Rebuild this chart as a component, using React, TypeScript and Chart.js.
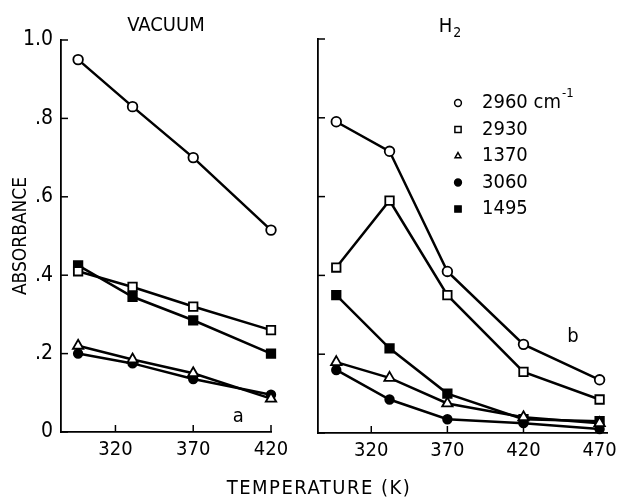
import React, { useEffect, useRef } from 'react';
import { Chart, registerables } from 'chart.js';
import { drawPoint } from 'chart.js/helpers';

Chart.register(...registerables);

const FONT = "'Liberation Sans Narrow', 'DejaVu Sans Condensed', 'Liberation Sans', sans-serif";

// ---------- data ----------
const seriesNames = ['2960', '2930', '1370', '3060', '1495'];
const seriesStyles = ['circle', 'rect', 'triangle', 'circle', 'rect'];
const seriesFilled = [false, false, false, true, true];
const seriesRadius = [4.8, 6, 6, 4.3, 6];

const vacuumTemps = [296, 331, 370, 420];
const vacuum2960 = [0.95, 0.83, 0.70, 0.515];
const vacuum2930 = [0.41, 0.37, 0.32, 0.26];
const vacuum1370 = [0.22, 0.185, 0.15, 0.085];
const vacuum3060 = [0.20, 0.175, 0.135, 0.095];
const vacuum1495 = [0.425, 0.345, 0.285, 0.20];

const h2Temps = [297, 332, 370, 420, 470];
const h2_2960 = [0.79, 0.715, 0.41, 0.225, 0.135];
const h2_2930 = [0.42, 0.59, 0.35, 0.155, 0.085];
const h2_1370 = [0.18, 0.14, 0.075, 0.04, 0.025];
const h2_3060 = [0.16, 0.085, 0.035, 0.025, 0.01];
const h2_1495 = [0.35, 0.215, 0.10, 0.035, 0.03];

const yTickValues = [0, 0.2, 0.4, 0.6, 0.8, 1.0];
const yTickLabels = ['0', '.2', '.4', '.6', '.8', '1.0'];
const vacuumXTicks = [320, 370, 420];
const h2XTicks = [320, 370, 420, 470];

// ---------- plugins ----------
const inwardTicks = {
  id: 'inwardTicks',
  afterDraw(chart: any) {
    const { ctx, chartArea, scales } = chart;
    ctx.save();
    ctx.strokeStyle = '#000';
    ctx.lineWidth = 1.5;
    const len = 7;
    scales.y.ticks.forEach((t: any) => {
      const y = scales.y.getPixelForValue(t.value);
      ctx.beginPath();
      ctx.moveTo(chartArea.left, y);
      ctx.lineTo(chartArea.left + len, y);
      ctx.stroke();
    });
    scales.x.ticks.forEach((t: any) => {
      const x = scales.x.getPixelForValue(t.value);
      ctx.beginPath();
      ctx.moveTo(x, chartArea.bottom);
      ctx.lineTo(x, chartArea.bottom - len);
      ctx.stroke();
    });
    ctx.restore();
  },
};

const panelText = {
  id: 'panelText',
  afterDraw(chart: any, _args: any, opts: any) {
    const { ctx, scales } = chart;
    ctx.save();
    ctx.fillStyle = '#000';
    ctx.textBaseline = 'middle';
    if (opts.title) {
      ctx.font = `20px ${FONT}`;
      ctx.textAlign = 'center';
      ctx.fillText(opts.title, opts.titleX, opts.titleY);
    }
    if (opts.sub) {
      ctx.font = `20px ${FONT}`;
      ctx.textAlign = 'left';
      const w = ctx.measureText(opts.subBase).width;
      const w2 = 9;
      const x0 = opts.titleX - (w + w2) / 2;
      ctx.fillText(opts.subBase, x0, opts.titleY);
      ctx.font = `14px ${FONT}`;
      ctx.fillText(opts.subText, x0 + w + 1, opts.titleY + 6);
    }
    if (opts.letter) {
      ctx.font = `20px ${FONT}`;
      ctx.textAlign = 'center';
      ctx.fillText(opts.letter, scales.x.getPixelForValue(opts.letterX), scales.y.getPixelForValue(opts.letterY));
    }
    ctx.restore();
  },
};

const inlineLegend = {
  id: 'inlineLegend',
  afterDraw(chart: any, _args: any, opts: any) {
    if (!opts.show) return;
    const { ctx } = chart;
    ctx.save();
    chart.data.datasets.forEach((ds: any, i: number) => {
      const y = opts.top + i * opts.step;
      ctx.fillStyle = ds.pointBackgroundColor;
      ctx.strokeStyle = '#000';
      ctx.lineWidth = 1.5;
      drawPoint(ctx, { pointStyle: ds.pointStyle, radius: ds.pointStyle === 'rect' ? 4.4 : 3.4, borderWidth: 1.5, rotation: 0 }, opts.markerX, y);
      ctx.fillStyle = '#000';
      ctx.font = `20px ${FONT}`;
      ctx.textAlign = 'left';
      ctx.textBaseline = 'middle';
      const label = i === 0 ? ds.label + ' cm' : ds.label;
      ctx.fillText(label, opts.textX, y);
      if (i === 0) {
        const w = ctx.measureText(label).width;
        ctx.font = `13px ${FONT}`;
        ctx.fillText('-1', opts.textX + w + 1, y - 9);
      }
    });
    ctx.restore();
  },
};

function buildDatasets(temps: number[], series: number[][]) {
  return series.map((vals, i) => ({
    label: seriesNames[i],
    data: temps.map((t, j) => ({ x: t, y: vals[j] })),
    borderColor: '#000',
    borderWidth: 2.5,
    pointStyle: seriesStyles[i],
    pointRadius: seriesRadius[i],
    pointBackgroundColor: seriesFilled[i] ? '#000' : '#fff',
    pointBorderColor: '#000',
    pointBorderWidth: 1.8,
    tension: 0,
    fill: false,
    clip: false,
  }));
}

function makeConfig(p: {
  temps: number[];
  series: number[][];
  xMax: number;
  xTicks: number[];
  showY: boolean;
  yWidth: number;
  xHeight: number;
  padTop: number;
  padRight: number;
  text: any;
  legend: any;
}) {
  return {
    type: 'line',
    data: { datasets: buildDatasets(p.temps, p.series) },
    plugins: [inwardTicks, panelText, inlineLegend],
    options: {
      responsive: false,
      animation: false,
      devicePixelRatio: 1,
      layout: { padding: { top: p.padTop, right: p.padRight, left: 0, bottom: 0 } },
      plugins: {
        legend: { display: false },
        title: { display: false },
        tooltip: { enabled: false },
        panelText: p.text,
        inlineLegend: p.legend,
      },
      scales: {
        x: {
          type: 'linear',
          min: 285,
          max: p.xMax,
          grid: { display: false, drawTicks: false },
          border: { display: true, color: '#000', width: 1.8 },
          afterBuildTicks: (s: any) => {
            s.ticks = p.xTicks.map((v) => ({ value: v }));
          },
          afterFit: (s: any) => {
            s.height = p.xHeight;
          },
          ticks: {
            color: '#000',
            padding: 6,
            maxRotation: 0,
            autoSkip: false,
            font: { family: FONT, size: 20 },
            callback: (v: any) => String(v),
          },
        },
        y: {
          type: 'linear',
          min: 0,
          max: 1.0,
          grid: { display: false, drawTicks: false },
          border: { display: true, color: '#000', width: 1.8 },
          afterBuildTicks: (s: any) => {
            s.ticks = yTickValues.map((v) => ({ value: v }));
          },
          afterFit: (s: any) => {
            s.width = p.yWidth;
          },
          title: {
            display: p.showY,
            text: 'ABSORBANCE',
            color: '#000',
            font: { family: FONT, size: 19 },
            padding: { top: 10, bottom: 0 },
          },
          ticks: {
            display: p.showY,
            color: '#000',
            padding: 8,
            autoSkip: false,
            font: { family: FONT, size: 21 },
            callback: (v: any) => {
              const idx = yTickValues.findIndex((t) => Math.abs(t - v) < 1e-9);
              return idx >= 0 ? yTickLabels[idx] : '';
            },
          },
        },
      },
    },
  } as any;
}

export default function App() {
  const leftRef = useRef<HTMLCanvasElement>(null);
  const rightRef = useRef<HTMLCanvasElement>(null);

  useEffect(() => {
    const left = new Chart(
      leftRef.current!,
      makeConfig({
        temps: vacuumTemps,
        series: [vacuum2960, vacuum2930, vacuum1370, vacuum3060, vacuum1495],
        xMax: 420,
        xTicks: vacuumXTicks,
        showY: true,
        yWidth: 61,
        xHeight: 68,
        padTop: 40,
        padRight: 29,
        text: { title: 'VACUUM', titleX: 166, titleY: 26, letter: 'a', letterX: 399, letterY: 0.04 },
        legend: { show: false },
      })
    );
    const right = new Chart(
      rightRef.current!,
      makeConfig({
        temps: h2Temps,
        series: [h2_2960, h2_2930, h2_1370, h2_3060, h2_1495],
        xMax: 475,
        xTicks: h2XTicks,
        showY: false,
        yWidth: 28,
        xHeight: 67,
        padTop: 39,
        padRight: 9,
        text: { sub: true, subBase: 'H', subText: '2', titleX: 160, titleY: 27, letter: 'b', letterX: 452.5, letterY: 0.245 },
        legend: { show: true, markerX: 168, textX: 192, top: 103, step: 26.5 },
      })
    );
    return () => {
      left.destroy();
      right.destroy();
    };
  }, []);

  return (
    <div style={{ position: 'absolute', left: 0, top: 0, width: 623, height: 500, background: '#fff', overflow: 'hidden' }}>
      <canvas ref={leftRef} width={300} height={500} style={{ position: 'absolute', left: 0, top: 0, width: 300, height: 500 }} />
      <canvas ref={rightRef} width={333} height={500} style={{ position: 'absolute', left: 290, top: 0, width: 333, height: 500 }} />
      <div
        style={{
          position: 'absolute',
          left: 0,
          width: 638,
          top: 475,
          textAlign: 'center',
          fontFamily: FONT,
          fontSize: 20,
          letterSpacing: 1.5,
          lineHeight: '24px',
          color: '#000',
        }}
      >
        TEMPERATURE (K)
      </div>
    </div>
  );
}
